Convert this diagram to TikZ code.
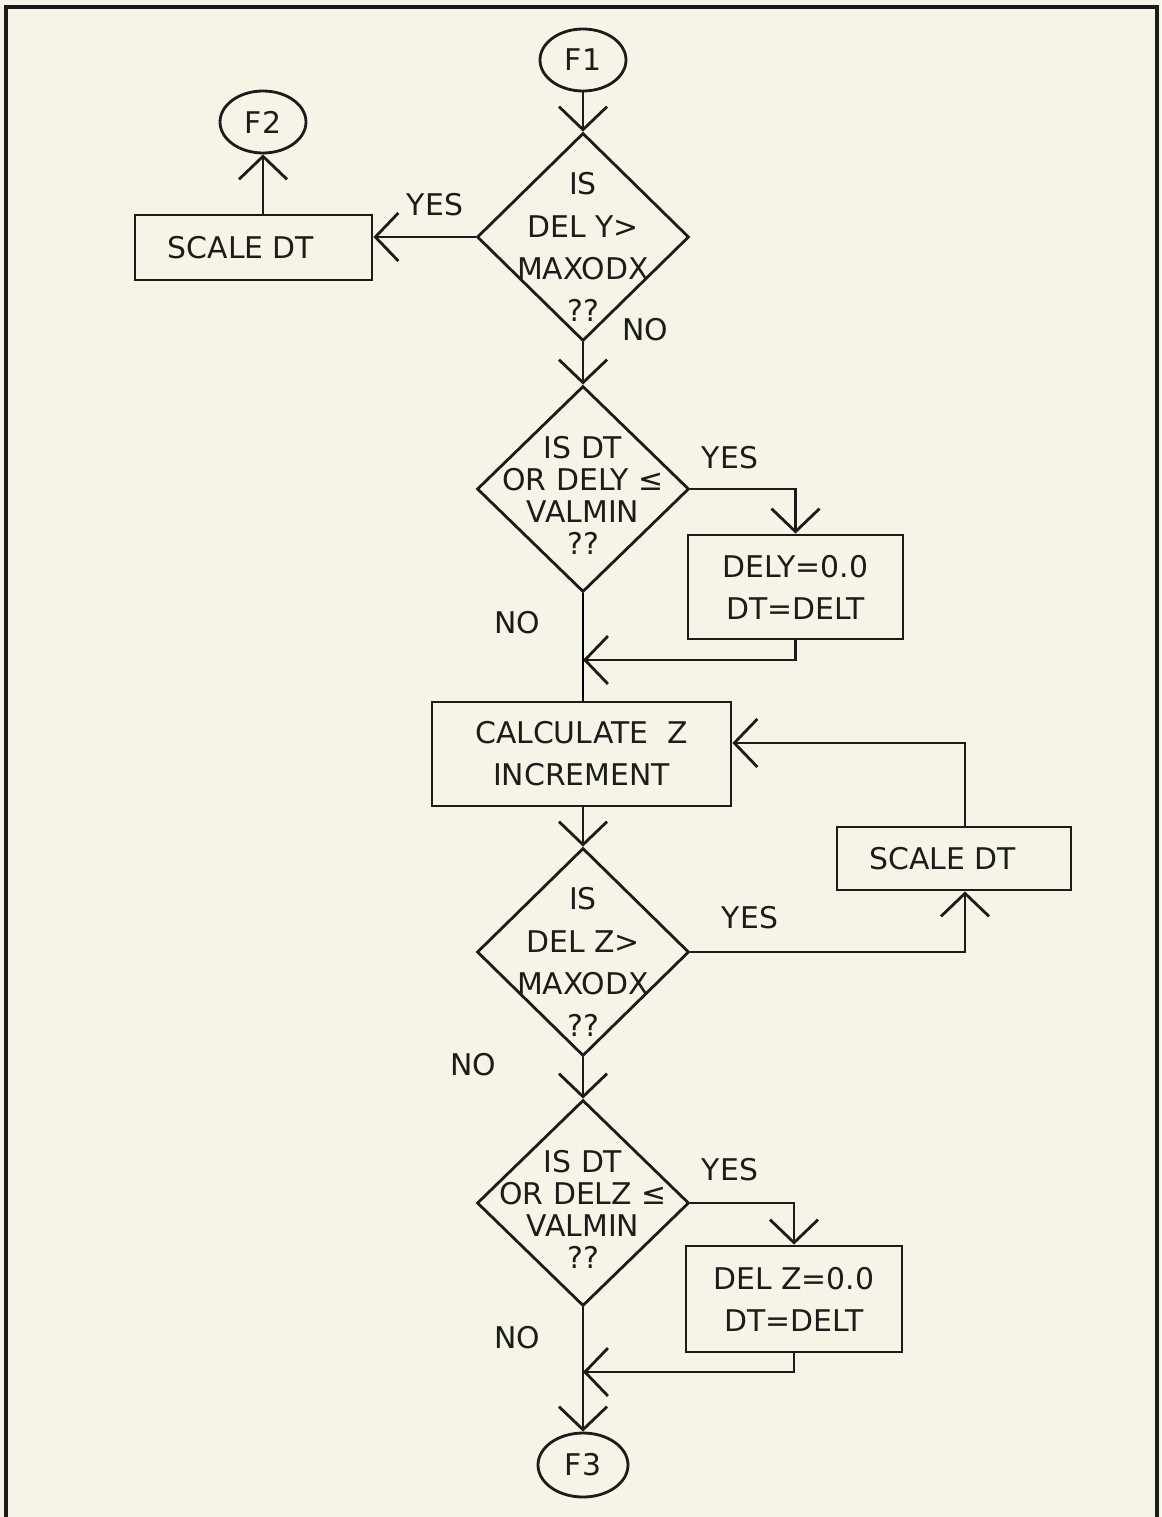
\documentclass[tikz,border=0pt]{standalone}
\usepackage{fontspec}
\setmainfont{DejaVu Sans}
\usetikzlibrary{arrows.meta, shapes.geometric, positioning, calc}

\definecolor{paper}{RGB}{246,244,231}
\definecolor{ink}{RGB}{28,28,26}

\begin{document}
\begin{tikzpicture}[x=0.02cm,y=-0.02cm,line width=1.6pt,
    >={Straight Barb[length=0.46cm,width=0.96cm]},
    every node/.style={font=\fontsize{17}{24}\selectfont, text=ink},
    blk/.style={draw=ink, rectangle, inner sep=0pt},
    dec/.style={draw=ink, diamond, inner sep=0pt, minimum width=4.24cm, minimum height=4.16cm},
    con/.style={draw=ink, ellipse, inner sep=0pt, minimum width=1.72cm, minimum height=1.24cm},
    lbl/.style={align=center},
    tight/.style={align=center, font=\fontsize{17}{18.2}\selectfont},
    arr/.style={->, draw=ink}]

% Page and frame
\useasboundingbox (0,0) rectangle (1161,1517);
\fill[paper] (0,0) rectangle (1161,1517);
\draw[ink, line width=2.2pt] (6,1517) -- (6,7) -- (1157,7) -- (1157,1517);

% Connectors to other sheets
\node[con] (f1) at (583,60) {F1};
\node[con] (f2) at (263,122) {F2};
\node[con, minimum width=1.8cm, minimum height=1.28cm] (f3) at (583,1465) {F3};

% Decisions
\node[dec] (d1) at (583,237) {};
\node[lbl] (d1t) at ($(d1)+(0,10)$) {IS\\DEL Y>\\MAXODX\\??};

\node[dec, minimum height=4.12cm] (d2) at (583,489) {};
\node[tight] (d2t) at ($(d2)+(0,6)$) {IS DT\\OR DELY ≤\\VALMIN\\??};

\node[dec] (d3) at (583,952) {};
\node[lbl] (d3t) at ($(d3)+(0,10)$) {IS\\DEL Z>\\MAXODX\\??};

\node[dec, minimum height=4.12cm] (d4) at (583,1203) {};
\node[tight] (d4t) at ($(d4)+(0,6)$) {IS DT\\OR DELZ ≤\\VALMIN\\??};

% Process boxes
\node[blk, minimum width=4.74cm, minimum height=1.3cm] (sc1) at (253.5,247.5) {SCALE DT\kern0.5cm};
\node[blk, lbl, minimum width=4.3cm, minimum height=2.08cm] (b1) at (795.5,587) {DELY=0.0\\DT=DELT};
\node[blk, lbl, minimum width=5.98cm, minimum height=2.08cm] (calc) at (581.5,754) {CALCULATE~~Z\\INCREMENT};
\node[blk, minimum width=4.68cm, minimum height=1.26cm] (sc2) at (954,858.5) {SCALE DT\kern0.45cm};
\node[blk, lbl, minimum width=4.32cm, minimum height=2.12cm] (b2) at (794,1299) {DEL Z=0.0\\DT=DELT};

% Branch labels
\node (yes1) at (435,205) {YES};
\node (no1) at (645,330) {NO};
\node (yes2) at (730,458) {YES};
\node (no2) at (517,623) {NO};
\node (yes3) at (750,918) {YES};
\node (no3) at (473,1065) {NO};
\node (yes4) at (730,1170) {YES};
\node (no4) at (517,1338) {NO};

% Merge points
\coordinate (j1) at (583,660);
\coordinate (j2) at (583,1372);

% Flow
\draw[arr] (f1) -- (d1);
\draw[arr] (d1.west) -- (d1.west -| sc1.east);
\draw[arr] (sc1.north -| f2) -- (f2);
\draw[arr] (d1) -- (d2);
\draw[arr] (d2.east) -| (b1);
\draw[arr] (b1) |- (j1);
\draw (d2) -- (d2 |- calc.north);
\draw[arr] (calc.south -| d3) -- (d3);
\draw[arr] (d3.east) -| ([xshift=0.22cm]sc2.south);
\draw[arr] ([xshift=0.22cm]sc2.north) |- ([yshift=0.22cm]calc.east);
\draw[arr] (d3) -- (d4);
\draw[arr] (d4.east) -| (b2);
\draw[arr] (b2) |- (j2);
\draw[arr] (d4) -- (f3);

\end{tikzpicture}
\end{document}
